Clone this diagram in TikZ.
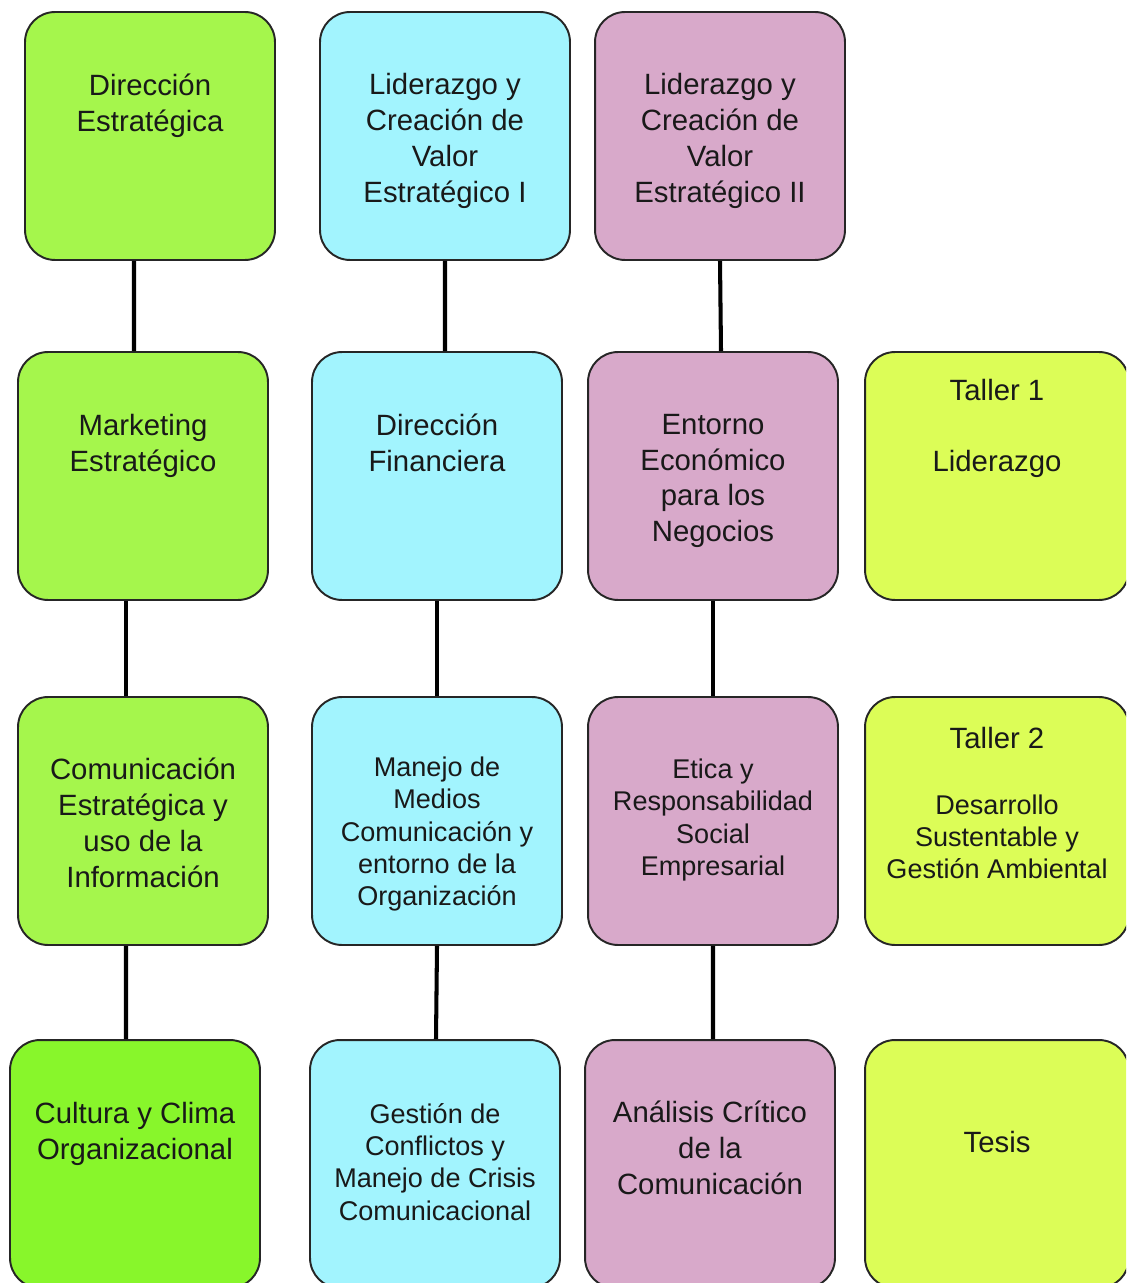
\documentclass[tikz,border=0pt]{standalone}
\usepackage{fontspec}
\setmainfont{Liberation Sans}
\usepackage{tikz}
\usetikzlibrary{positioning}
\definecolor{verde}{HTML}{A5F64C}
\definecolor{verdefuerte}{HTML}{88F62B}
\definecolor{celeste}{HTML}{A2F4FE}
\definecolor{rosa}{HTML}{D8A9CA}
\definecolor{lima}{HTML}{DCFD57}

\begin{document}
\begin{tikzpicture}[x=0.02cm, y=-0.02cm, every node/.style={inner sep=0pt},
curso/.style={draw=black!85, line width=1.1pt, rounded corners=0.6cm,
minimum width=5cm, minimum height=4.96cm},
taller/.style={curso, minimum width=5.28cm},
txt/.style={align=center, text=black!90, font=\fontsize{16.7}{20.4}\selectfont},
chico/.style={txt, font=\fontsize{15.4}{18.3}\selectfont},
enlace/.style={line width=2.3pt}]
\useasboundingbox (0,0) rectangle (1126,1283);
\clip (0,0) rectangle (1126,1283);
% cajas
\node[curso, fill=verde] (r1c1) at (150,136){};
\node[curso, fill=celeste] (r1c2) at (445,136){};
\node[curso, fill=rosa] (r1c3) at (720,136){};
\foreach \f/\y in {2/476, 3/821}{
\node[curso, fill=verde] (r\f c1) at (143,\y){};
\node[curso, fill=celeste] (r\f c2) at (437,\y){};
\node[curso, fill=rosa] (r\f c3) at (713,\y){};
\node[taller, fill=lima] (r\f c4) at (997,\y){};}
\node[curso, fill=verdefuerte] (r4c1) at (135,1164){};
\node[curso, fill=celeste] (r4c2) at (435,1164){};
\node[curso, fill=rosa] (r4c3) at (710,1164){};
\node[taller, fill=lima] (r4c4) at (997,1164){};
% textos
\node[txt] (t1c1) at (150,106){Dirección\\Estratégica};
\node[txt] (t1c2) at (445,141){Liderazgo y\\Creación de\\Valor\\Estratégico I};
\node[txt] (t1c3) at (720,141){Liderazgo y\\Creación de\\Valor\\Estratégico II};
\node[txt] (t2c1) at (143,446){Marketing\\Estratégico};
\node[txt] (t2c2) at (437,443){Dirección\\Financiera};
\node[txt] (t2c3) at (713,481){Entorno\\Económico\\para los\\Negocios};
\node[txt] (t2c4) at (997,428){Taller 1\\[20pt]Liderazgo};
\node[txt] (t3c1) at (143,823){Comunicación\\Estratégica y\\uso de la\\Información};
\node[chico] (t3c2) at (437,834){Manejo de\\Medios\\Comunicación y\\entorno de la\\Organización};
\node[chico] (t3c3) at (713,820){Etica y\\Responsabilidad\\Social\\Empresarial};
\node[chico] (t3c4) at (997,803){{\fontsize{16.7}{20.4}\selectfont Taller 2}\\[19pt]Desarrollo\\Sustentable y\\Gestión Ambiental};
\node[txt] (t4c1) at (135,1134){Cultura y Clima\\Organizacional};
\node[chico] (t4c2) at (435,1162){Gestión de\\Conflictos y\\Manejo de Crisis\\Comunicacional};
\node[txt] (t4c3) at (710,1148){Análisis Crítico\\de la\\Comunicación};
\node[txt] (t4c4) at (997,1142){Tesis};
% enlaces
\draw[enlace] ([xshift=-0.32cm]r1c1.south) -- ([xshift=-0.18cm]r2c1.north);
\draw[enlace] ([xshift=-0.34cm]r2c1.south) -- ([xshift=-0.34cm]r3c1.north);
\draw[enlace] ([xshift=-0.34cm]r3c1.south) -- ([xshift=-0.18cm]r4c1.north);
\draw[enlace] (r1c2.south) -- ([xshift=0.16cm]r2c2.north);
\draw[enlace] (r2c2.south) -- (r3c2.north);
\draw[enlace] (r3c2.south) -- ([xshift=0.02cm]r4c2.north);
\draw[enlace] (r1c3.south) -- ([xshift=0.16cm]r2c3.north);
\draw[enlace] (r2c3.south) -- (r3c3.north);
\draw[enlace] (r3c3.south) -- ([xshift=0.06cm]r4c3.north);
\end{tikzpicture}
\end{document}
